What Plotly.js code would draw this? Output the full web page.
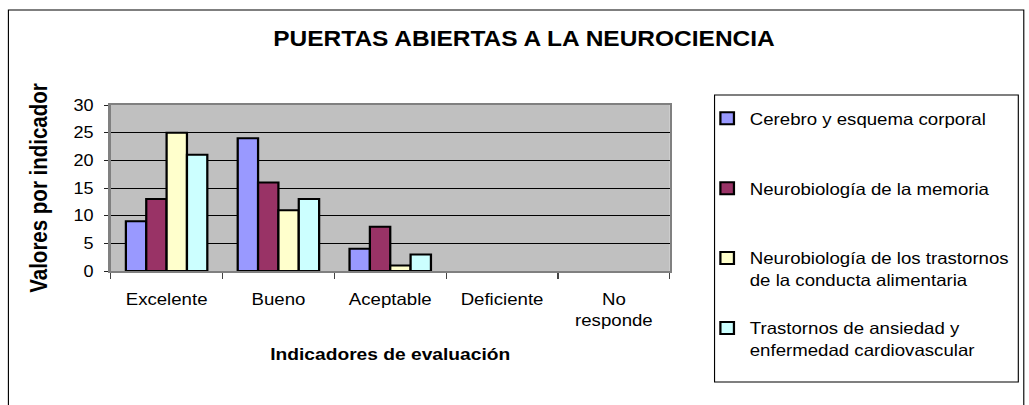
<!DOCTYPE html>
<html><head><meta charset="utf-8">
<script src="https://cdn.plot.ly/plotly-3.0.1.min.js"></script>
<style>
html,body{margin:0;padding:0;background:#fff;overflow:hidden;width:1029px;height:405px}
#wrap{width:1029px;height:405px;overflow:hidden;position:relative}
#chart{position:absolute;left:0;top:0;width:911px;height:405px;transform:scaleX(1.1295);transform-origin:0 0}
</style>
</head><body><div id="wrap"><div id="chart"></div></div>
<script>
const categories = ["Excelente", "Bueno", "Aceptable", "Deficiente", "No<br>responde"];
const seriesNames = [
  "Cerebro y esquema corporal",
  "Neurobiología de la memoria",
  "Neurobiología de los trastornos<br>de la conducta alimentaria",
  "Trastornos de ansiedad y<br>enfermedad cardiovascular"
];
const cerebro = [9, 24, 4, 0, 0];
const memoria = [13, 16, 8, 0, 0];
const alimentaria = [25, 11, 1, 0, 0];
const ansiedad = [21, 13, 3, 0, 0];
const yTicks = [0, 5, 10, 15, 20, 25, 30];
const colors = ["#9999FF", "#993366", "#FFFFCC", "#CCFFFF"];

// geometry (reference pixels are horizontally stretched by S)
const S = 1029 / 911;
const L = 98, R = 316, T = 105, B = 134;
const PW = 911 - L - R, PH = 405 - T - B;
const px = x => (x / S - L) / PW;
const py = y => (405 - B - y) / PH;

const values = [cerebro, memoria, alimentaria, ansiedad];
const traces = values.map((v, i) => ({
  type: "bar", x: categories, y: v,
  name: seriesNames[i].includes("<br>") ? seriesNames[i] : seriesNames[i] + "<br>\u00a0",
  legendgroup: "g" + i,
  marker: {color: colors[i], line: {color: "#000", width: v.map(val => val ? 2 : 0)}},
  hoverinfo: "x+y"
}));

const font = "Arial, 'Liberation Sans', sans-serif";
const layout = {
  width: 911, height: 405,
  margin: {l: L, r: R, t: T, b: B},
  paper_bgcolor: "#fff", plot_bgcolor: "#C0C0C0",
  font: {family: font, size: 16, color: "#000"},
  title: {text: "<b>PUERTAS ABIERTAS A LA NEUROCIENCIA</b>", font: {family: font, size: 21.7, color: "#000"},
          xref: "container", x: 524 / 1029, xanchor: "center", y: 1 - 38 / 405, yanchor: "middle"},
  barmode: "group", bargap: 0.272, bargroupgap: 0,
  xaxis: {
    title: {text: "<b>Indicadores de evaluación</b>", font: {size: 17}, standoff: 20},
    showline: true, linecolor: "#808080", linewidth: 2, mirror: true,
    ticks: "outside", ticklen: 6, tickcolor: "#444", tickwidth: 1, tickson: "boundaries",
    ticklabelstandoff: 12,
    showgrid: false, tickfont: {size: 16.5}, fixedrange: true
  },
  yaxis: {
    title: {text: "<b>Valores por indicador</b>", font: {size: 20.5}, standoff: 17},
    range: [0, 30], tickvals: yTicks, ticktext: yTicks.map(String),
    showline: true, linecolor: "#808080", linewidth: 2, mirror: true,
    ticks: "outside", ticklen: 4, tickcolor: "#222", tickwidth: 1,
    ticklabelstandoff: 6,
    showgrid: true, gridcolor: "#000", gridwidth: 1, zeroline: false,
    tickfont: {size: 16}, fixedrange: true
  },
  showlegend: true,
  legend: {
    x: px(707), xanchor: "left", y: py(101), yanchor: "top",
    bgcolor: "rgba(0,0,0,0)", borderwidth: 0, valign: "top",
    font: {size: 16.5}, tracegroupgap: 24, traceorder: "grouped",
    maxheight: 400
  },
  shapes: [
    {type: "rect", xref: "paper", yref: "paper", x0: px(717), x1: px(1022), y0: py(382), y1: py(95), line: {color: "#000", width: 1}, fillcolor: "rgba(0,0,0,0)", layer: "below"},
    {type: "rect", xref: "paper", yref: "paper", x0: px(8), x1: px(1027.5), y0: py(420), y1: py(10), line: {color: "#000", width: 1}, fillcolor: "rgba(0,0,0,0)", layer: "below"}
  ]
};
Plotly.newPlot("chart", traces, layout, {displayModeBar: false, staticPlot: true});
</script></body></html>
